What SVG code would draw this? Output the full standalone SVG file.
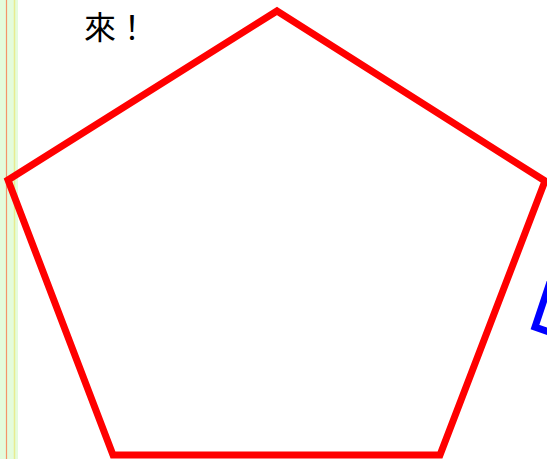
<svg xmlns="http://www.w3.org/2000/svg" width="547" height="459" viewBox="0 0 547 459">
<style>
.shape{fill:none;stroke-width:7;stroke-linejoin:miter}
.txt{font-family:"Noto Sans CJK TC","Noto Sans CJK SC",sans-serif;font-size:32px;fill:#000}
</style>
<rect width="547" height="459" fill="#fff"/>
<g id="margin">
<rect x="0" y="0" width="18" height="459" fill="#e4fcdc"/>
<line x1="6.5" y1="0" x2="6.5" y2="459" stroke="#f4956a" stroke-width="1.2"/>
<line x1="14.5" y1="0" x2="14.5" y2="459" stroke="#e8ec90" stroke-width="1.5"/>
</g>
<g id="text">
<text class="txt" x="84" y="39">來！</text>
</g>
<g id="pentagon">
<polygon class="shape" stroke="#ff0000" points="277,11 545,181 440,455 113,455 8,180"/>
</g>
<g id="blue-shape">
<polyline class="shape" stroke="#0000ff" points="550,282 535,327 552,333"/>
</g>
</svg>
